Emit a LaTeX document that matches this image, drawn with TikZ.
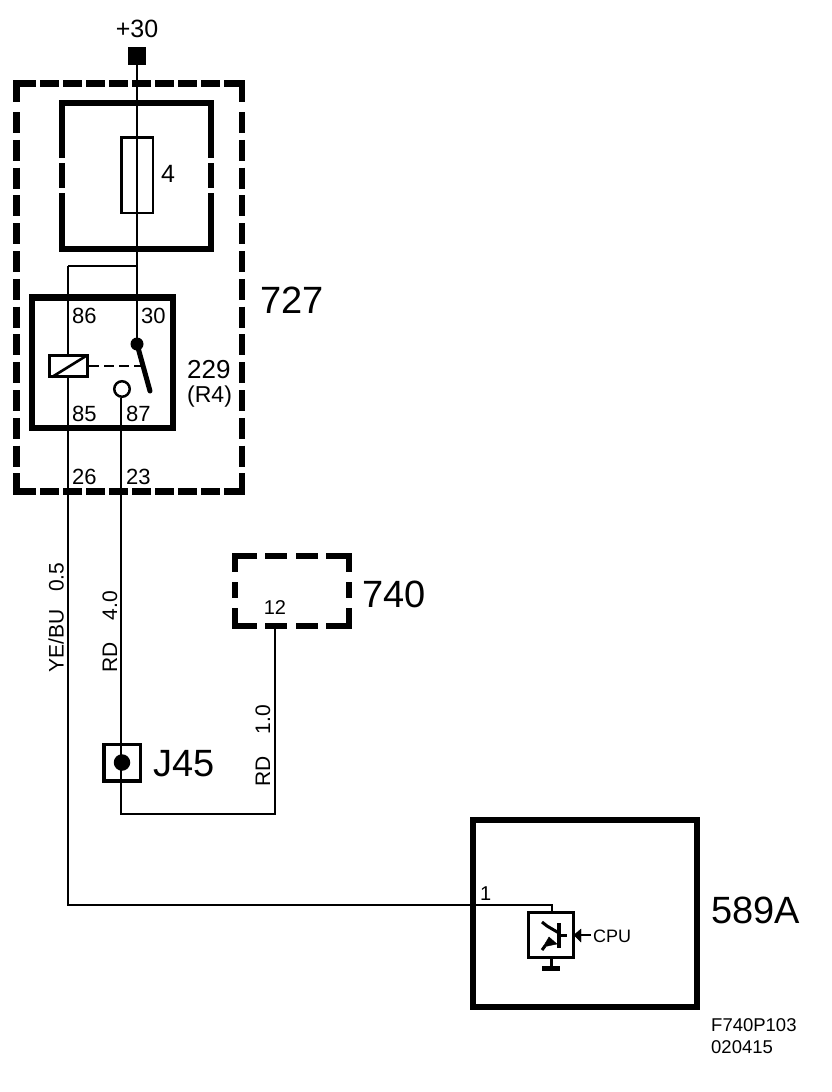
\documentclass[tikz,border=0pt]{standalone}
\usepackage{fontspec}
\setmainfont{Liberation Sans}
\usetikzlibrary{positioning}
\tikzset{
  wire/.style={draw=black,line width=2.8pt},
  heavyline/.style={draw=black,line width=6pt},
  dashwide/.style={draw=black,line width=6.5pt,dash pattern=on 18.5pt off 4.5pt},
  dashtall/.style={draw=black,line width=6.5pt,dash pattern=on 21pt off 6.8pt},
  dashshort/.style={draw=black,line width=6pt},
  smallbox/.style={draw=black,line width=3pt,fill=white,inner sep=0pt},
  dotnode/.style={circle,fill=black,inner sep=0pt},
  pinlabel/.style={font=\fontsize{22}{22}\selectfont,text=black,inner sep=0pt},
  biglabel/.style={font=\fontsize{38}{38}\selectfont,text=black,inner sep=0pt,anchor=west},
  cablelabel/.style={font=\fontsize{21}{21}\selectfont,text=black,inner sep=0pt,rotate=90,anchor=west},
}
\begin{document}
\begin{tikzpicture}[x=1pt,y=-1pt]
\useasboundingbox (0,0) rectangle (832,1092);
% outer housing 727
\draw[heavyline,line width=6.5pt] (35.5,83.5) -- (16.5,83.5) -- (16.5,102);
\draw[heavyline,line width=6.5pt] (224,83.5) -- (242,83.5) -- (242,102);
\draw[heavyline,line width=6.5pt] (16.5,473) -- (16.5,491.5) -- (35.5,491.5);
\draw[heavyline,line width=6.5pt] (242,473) -- (242,491.5) -- (224,491.5);
\draw[dashwide] (40,83.5) -- (219.5,83.5);
\draw[dashwide] (40,491.5) -- (219.5,491.5);
\draw[dashtall] (16.5,112) -- (16.5,466.6);
\draw[dashtall] (242,112) -- (242,466.6);
% housing 740
\draw[dashshort] (257,555.5) -- (235,555.5) -- (235,572);
\draw[dashshort] (326,555.5) -- (349,555.5) -- (349,572);
\draw[dashshort] (235,608) -- (235,625.5) -- (257,625.5);
\draw[dashshort] (349,608) -- (349,625.5) -- (326,625.5);
\draw[dashshort] (265,555.5) -- (287,555.5) (296,555.5) -- (318,555.5);
\draw[dashshort] (265,625.5) -- (287,625.5) (296,625.5) -- (318,625.5);
\draw[dashshort] (235,582) -- (235,598) (349,582) -- (349,598);
% fuse housing, sides are broken twice
\draw[heavyline] (62,158) -- (62,103) -- (211,103) -- (211,158);
\draw[heavyline] (62,163) -- (62,188) (211,163) -- (211,188);
\draw[heavyline] (62,193) -- (62,248.5) -- (211,248.5) -- (211,193);
% relay and control unit
\draw[heavyline,line width=6.5pt] (32,297.5) rectangle (173,428);
\draw[heavyline] (473,820) rectangle (697,1007);
% points of the wires
\coordinate (top30) at (137,62);
\coordinate (split) at (137,266);
\coordinate (coiltop) at (68,266);
\coordinate (low) at (68,905);
\coordinate (step) at (552,905);
\coordinate (jbot) at (121,814);
\coordinate (rbot) at (275,814);
\coordinate (pin12) at (275,626);
\coordinate (stem) at (551,968);
% components
\node[draw=none,fill=black,minimum size=18pt,inner sep=0pt] (feed) at (137,56) {};
\node[draw=black,line width=2.5pt,minimum width=31.5pt,minimum height=75.5pt,inner sep=0pt] (fuse) at (137,175) {};
\node[smallbox,minimum width=38pt,minimum height=21pt] (coil) at (68.5,366) {};
\node[dotnode,minimum size=13pt] (contact) at (137,344) {};
\node[draw=black,circle,line width=2.5pt,minimum size=15.5pt,inner sep=0pt] (pin87) at (122,389) {};
\coordinate (armend) at (150,391);
\coordinate (armmid) at (143,366);
\node[draw=black,line width=3.5pt,minimum size=36.5pt,inner sep=0pt] (jbox) at (122,762.5) {};
\node[dotnode,minimum size=16.5pt] (jdot) at (122,762.5) {};
\node[draw=black,line width=3pt,fill=white,minimum size=45pt,inner sep=0pt] (driver) at (551,935) {};
% wires
\draw[wire] (top30) -- (contact.center);
\draw[wire] (coiltop) -- (split);
\draw[wire] (coiltop) -- (coil.north -| coiltop);
\draw[wire] (coil.south -| coiltop) -- (low) -- (step) -- (driver.north -| step);
\draw[wire] (pin87.south -| jbot) -- (jbot) -- (rbot) -- (pin12);
\draw[black,line width=2.6pt] (52,377) -- (86,356);
\draw[black,line width=5pt,line cap=round] (contact.center) -- (armend);
\draw[black,line width=2.4pt,dash pattern=on 10pt off 5pt] (coil.east) -- (armmid);
% driver symbol
\draw[black,line width=3pt] (driver.south) -- (stem);
\draw[black,line width=5pt] (542,968.5) -- (560,968.5);
\draw[black,line width=3pt] (542,922) -- (547,926) -- (559,933);
\draw[black,line width=3.5pt] (559,923) -- (559,948);
\draw[black,line width=3pt] (559,935) -- (567,935);
\draw[black,fill=black] (549,937) -- (557,944) -- (543,947) -- cycle;
\draw[black,line width=3pt] (545,946) -- (542,950);
\draw[black,line width=2.6pt] (591,935) -- (578,935);
\draw[black,fill=black] (574,935) -- (581,929) -- (581,942) -- cycle;
% labels
\node[font=\fontsize{25}{25}\selectfont,inner sep=0pt,anchor=south] (l30) at (137,38) {+30};
\node[font=\fontsize{25}{25}\selectfont,inner sep=0pt,anchor=west] (l4) at (161,174) {4};
\node[biglabel] (l727) at (260,300) {727};
\node[pinlabel,anchor=west] (l86) at (72,316) {86};
\node[pinlabel,anchor=west] (lp30) at (141,316) {30};
\node[pinlabel,anchor=west] (l85) at (72,414) {85};
\node[pinlabel,anchor=west] (l87) at (126,414) {87};
\node[pinlabel,anchor=west] (l26) at (72,477) {26};
\node[pinlabel,anchor=west] (l23) at (126,477) {23};
\node[font=\fontsize{26}{26}\selectfont,inner sep=0pt,anchor=west] (l229) at (187,370) {229};
\node[font=\fontsize{23}{23}\selectfont,inner sep=0pt,anchor=west] (lr4) at (187,397) {(R4)};
\node[biglabel] (l740) at (362,594) {740};
\node[font=\fontsize{20}{20}\selectfont,inner sep=0pt] (l12) at (275,608) {12};
\node[cablelabel] (cyb) at (56,673) {YE/BU\hspace{18pt}0.5};
\node[cablelabel] (crd4) at (110,673) {RD\hspace{22pt}4.0};
\node[cablelabel] (crd1) at (263,787) {RD\hspace{22pt}1.0};
\node[biglabel] (lj45) at (153,764) {J45};
\node[biglabel] (l589) at (711,910) {589A};
\node[font=\fontsize{20}{20}\selectfont,inner sep=0pt,anchor=west] (lone) at (480,894) {1};
\node[font=\fontsize{18}{18}\selectfont,inner sep=0pt,anchor=west] (lcpu) at (593,936) {CPU};
\node[font=\fontsize{18.5}{18.5}\selectfont,inner sep=0pt,anchor=west] (lcode) at (711,1025) {F740P103};
\node[font=\fontsize{18.5}{18.5}\selectfont,inner sep=0pt,anchor=west] (ldate) at (711,1047) {020415};
\end{tikzpicture}
\end{document}
